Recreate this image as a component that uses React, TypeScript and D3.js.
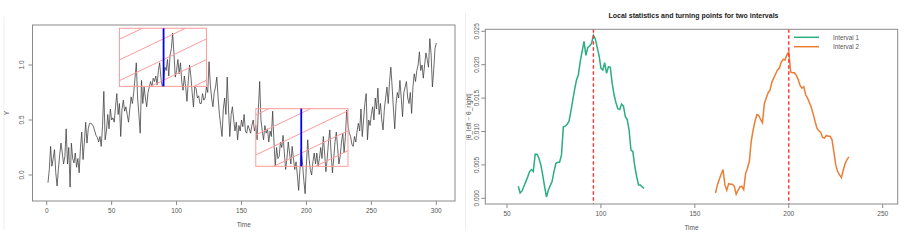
import React from "react";
import * as d3 from "d3";

// ---------- data ----------
const seriesY: number[] = [
  -0.07, 0.05, 0.26, 0.08, 0.15, 0.23, 0.02, -0.10, 0.05, 0.18,
  0.29, 0.20, 0.10, 0.17, 0.42, 0.10, 0.25, -0.11, 0.29, 0.15,
  0.11, 0.20, 0.07, 0.15, 0.02, 0.25, 0.39, 0.14, 0.30, 0.48,
  0.29, 0.42, 0.47, 0.47, 0.46, 0.44, 0.40, 0.36, 0.34, 0.30,
  0.35, 0.26, 0.45, 0.76, 0.32, 0.40, 0.55, 0.42, 0.60, 0.50,
  0.52, 0.48, 0.62, 0.74, 0.55, 0.65, 0.35, 0.60, 0.68, 0.58,
  0.62, 0.55, 0.48, 0.60, 0.71, 0.65, 0.75, 0.88, 1.02, 0.70,
  0.55, 0.38, 0.86, 0.65, 0.80, 0.70, 0.62, 0.75, 0.80, 0.85,
  0.80, 0.88, 0.85, 0.90, 0.82, 0.95, 1.02, 0.88, 0.80, 0.86,
  0.98, 0.95, 1.05, 0.90, 1.09, 1.15, 1.29, 1.10, 0.89, 0.95,
  1.05, 0.92, 1.02, 0.85, 0.77, 0.90, 0.80, 0.67, 0.85, 1.00,
  0.90, 0.75, 0.62, 0.80, 0.79, 0.70, 0.72, 0.65, 0.65, 0.74,
  0.68, 0.70, 0.80, 0.75, 1.03, 0.82, 0.70, 0.62, 0.75, 0.80,
  0.89, 0.70, 0.55, 0.45, 0.35, 0.60, 0.70, 0.55, 0.89, 0.60,
  0.35, 0.55, 0.62, 0.50, 0.40, 0.48, 0.32, 0.45, 0.40, 0.50,
  0.44, 0.55, 0.40, 0.38, 0.45, 0.42, 0.38, 0.45, 0.50, 0.40,
  0.45, 0.32, 0.60, 0.85, 0.50, 0.40, 0.32, 0.45, 0.38, 0.42,
  0.30, 0.40, 0.35, 0.58, 0.30, 0.08, 0.25, 0.15, 0.17, 0.30,
  0.25, 0.36, 0.20, 0.05, 0.15, 0.30, 0.20, 0.10, 0.26, 0.15,
  0.05, 0.12, 0.00, -0.14, 0.05, 0.23, 0.10, -0.05, -0.17, 0.10,
  0.32, 0.15, 0.05, 0.00, 0.12, 0.20, 0.10, 0.20, 0.08, 0.15,
  0.25, 0.15, 0.35, 0.20, 0.03, 0.15, 0.30, 0.41, 0.20, 0.02,
  0.15, 0.30, 0.39, 0.25, 0.10, 0.17, 0.30, 0.38, 0.20, 0.35,
  0.59, 0.45, 0.38, 0.35, 0.28, 0.26, 0.35, 0.30, 0.40, 0.47,
  0.40, 0.60, 0.35, 0.50, 0.65, 0.74, 0.32, 0.50, 0.45, 0.55,
  0.62, 0.50, 0.70, 0.60, 0.79, 0.55, 0.65, 0.50, 0.41, 0.60,
  0.70, 0.80, 0.65, 0.85, 0.98, 0.80, 0.60, 0.42, 0.65, 0.75,
  0.70, 0.86, 0.70, 0.53, 0.75, 0.80, 0.85, 0.70, 0.65, 0.75,
  0.56, 0.80, 0.92, 0.85, 0.95, 1.00, 1.12, 0.95, 1.00, 0.88,
  1.00, 1.11, 1.05, 0.98, 1.24, 1.10, 0.80, 0.95, 1.15, 1.20,
];

// intervals: [start, end, yLow, yHigh, turning point in left panel]
const intervalStart = [56, 161];
const intervalEnd = [123, 232];
const intervalLow = [0.806, 0.079];
const intervalHigh = [1.334, 0.603];
const turnLeft = [90, 196];

const stat1Start = 56;
const stat1: number[] = [
  0.0018, 0.0008, 0.0011, 0.0018, 0.0025, 0.0032, 0.0040, 0.0043, 0.0040, 0.0066,
  0.0066, 0.0060, 0.0050, 0.0035, 0.0018, 0.0002, 0.0012, 0.0019, 0.0025, 0.0040,
  0.0052, 0.0054, 0.0054, 0.0065, 0.0107, 0.0108, 0.0111, 0.0115, 0.0130, 0.0147,
  0.0163, 0.0177, 0.0185, 0.0205, 0.0220, 0.0235, 0.0214, 0.0226, 0.0228, 0.0232,
  0.0244, 0.0239, 0.0226, 0.0214, 0.0195, 0.0192, 0.0203, 0.0187, 0.0197, 0.0196,
  0.0172, 0.0155, 0.0143, 0.0134, 0.0133, 0.0141, 0.0138, 0.0122, 0.0118, 0.0102,
  0.0072, 0.0070, 0.0048, 0.0033, 0.0020, 0.0020, 0.0017, 0.0015,
];
const stat2Start = 161;
const stat2: number[] = [
  0.0008, 0.0020, 0.0028, 0.0036, 0.0043, 0.0020, 0.0012, 0.0022, 0.0021, 0.0021,
  0.0018, 0.0006, 0.0012, 0.0017, 0.0018, 0.0013, 0.0037, 0.0045, 0.0055, 0.0085,
  0.0102, 0.0115, 0.0125, 0.0124, 0.0118, 0.0113, 0.0142, 0.0150, 0.0158, 0.0162,
  0.0174, 0.0180, 0.0186, 0.0192, 0.0195, 0.0204, 0.0208, 0.0207, 0.0215, 0.0219,
  0.0189, 0.0188, 0.0188, 0.0184, 0.0178, 0.0169, 0.0165, 0.0167, 0.0155, 0.0150,
  0.0143, 0.0136, 0.0126, 0.0115, 0.0105, 0.0101, 0.0099, 0.0091, 0.0090, 0.0094,
  0.0093, 0.0093, 0.0088, 0.0070, 0.0050, 0.0040, 0.0035, 0.0031, 0.0042, 0.0052,
  0.0058, 0.0062,
];
const turningPoints = [96, 200];
const legendLabels = ["Interval 1", "Interval 2"];

const leftXTicks = [0, 50, 100, 150, 200, 250, 300];
const leftYTicks = [0, 0.5, 1.0];
const rightXTicks = [50, 100, 150, 200, 250];
const rightYTicks = [0, 0.005, 0.01, 0.015, 0.02, 0.025];

const title = "Local statistics and turning points for two intervals";

// ---------- styles ----------
const FONT = "'Liberation Sans', Arial, sans-serif";
const AXIS = "#8a8a8a";
const TEXT = "#555555";
const GREEN = "#2aad80";
const ORANGE = "#ec7d35";
const RECT = "#ff9a9a";

const App: React.FC = () => {
  // left panel geometry
  const L = { x0: 32.5, x1: 455, y0: 25, y1: 201 };
  const lx = d3.scaleLinear().domain([0, 300]).range([46.7, 436.3]);
  const ly = d3.scaleLinear().domain([0, 1]).range([175, 65]);
  const line = d3
    .line<number>()
    .x((_, i) => lx(i + 1))
    .y((d) => ly(d));

  // right panel geometry
  const R = { x0: 485.3, x1: 897.7, y0: 29.3, y1: 204 };
  const rx = d3.scaleLinear().domain([50, 250]).range([507, 882.7]);
  const ry = d3.scaleLinear().domain([0, 0.025]).range([198.3, 31.3]);
  const sLine = (start: number) =>
    d3
      .line<number>()
      .x((_, i) => rx(start + i))
      .y((d) => ry(d));

  const hatchSlope = 0.48;
  const hatchGap = [20.7, 20];
  const hatchOffset = [11, 6.3];

  const rects = intervalStart.map((s, i) => {
    const x0 = lx(s);
    const x1 = lx(intervalEnd[i]);
    const yTop = ly(intervalHigh[i]);
    const yBot = ly(intervalLow[i]);
    const lines: [number, number, number, number][] = [];
    const c0 = yTop + hatchOffset[i];
    for (let n = -3; n < 12; n++) {
      const yl = c0 + n * hatchGap[i];
      const yr = yl - hatchSlope * (x1 - x0);
      if (yr > yBot || yl < yTop) continue;
      lines.push([x0, yl, x1, yr]);
    }
    return { x0, x1, yTop, yBot, lines, turn: lx(turnLeft[i]) };
  });

  return (
    <svg
      width={912}
      height={243}
      style={{ position: "absolute", left: 0, top: 0, background: "#fff" }}
      fontFamily={FONT}
    >
      <defs>
        {rects.map((r, i) => (
          <clipPath id={`clip${i}`} key={i}>
            <rect x={r.x0} y={r.yTop} width={r.x1 - r.x0} height={r.yBot - r.yTop} />
          </clipPath>
        ))}
      </defs>
      {/* faint panel borders */}
      <line x1={4} x2={4} y1={17} y2={230} stroke="#eeeeee" />
      <line x1={465.5} x2={465.5} y1={13} y2={230} stroke="#eeeeee" />

      {/* ---------- LEFT PANEL ---------- */}
      <path d={line(seriesY) || ""} fill="none" stroke="#3a3a3a" strokeWidth={0.75} />
      {rects.map((r, i) => (
        <g key={i}>
          <g clipPath={`url(#clip${i})`}>
            {r.lines.map((l, j) => (
              <line key={j} x1={l[0]} y1={l[1]} x2={l[2]} y2={l[3]} stroke={RECT} strokeWidth={1} />
            ))}
          </g>
          <rect
            x={r.x0}
            y={r.yTop}
            width={r.x1 - r.x0}
            height={r.yBot - r.yTop}
            fill="none"
            stroke={RECT}
            strokeWidth={1}
          />
          <line x1={r.turn} x2={r.turn} y1={r.yTop} y2={r.yBot} stroke="#0000ff" strokeWidth={1.8} />
        </g>
      ))}
      <rect x={L.x0} y={L.y0} width={L.x1 - L.x0} height={L.y1 - L.y0} fill="none" stroke={AXIS} strokeWidth={1} />
      {leftXTicks.map((t) => (
        <g key={t}>
          <line x1={lx(t)} x2={lx(t)} y1={L.y1} y2={L.y1 + 4} stroke={AXIS} />
          <text x={lx(t)} y={213} fontSize={6.5} textAnchor="middle" fill={TEXT}>
            {t}
          </text>
        </g>
      ))}
      {leftYTicks.map((t) => (
        <g key={t}>
          <line x1={L.x0} x2={L.x0 - 4} y1={ly(t)} y2={ly(t)} stroke={AXIS} />
          <text
            transform={`translate(24,${ly(t)}) rotate(-90)`}
            fontSize={6.5}
            textAnchor="middle"
            fill={TEXT}
          >
            {d3.format(".1f")(t)}
          </text>
        </g>
      ))}
      <text x={(L.x0 + L.x1) / 2} y={227} fontSize={6.5} textAnchor="middle" fill={TEXT}>
        Time
      </text>
      <text transform={`translate(9,${(L.y0 + L.y1) / 2}) rotate(-90)`} fontSize={6.5} textAnchor="middle" fill={TEXT}>
        Y
      </text>

      {/* ---------- RIGHT PANEL ---------- */}
      <text x={(R.x0 + R.x1) / 2 + 2} y={18} fontSize={7} fontWeight="bold" textAnchor="middle" fill="#222">
        {title}
      </text>
      <path d={sLine(stat1Start)(stat1) || ""} fill="none" stroke={GREEN} strokeWidth={1.5} />
      <path d={sLine(stat2Start)(stat2) || ""} fill="none" stroke={ORANGE} strokeWidth={1.5} />
      {turningPoints.map((t) => (
        <line
          key={t}
          x1={rx(t)}
          x2={rx(t)}
          y1={R.y0}
          y2={R.y1}
          stroke="#ff3030"
          strokeWidth={1.4}
          strokeDasharray="3.5,2.5"
        />
      ))}
      <rect x={R.x0} y={R.y0} width={R.x1 - R.x0} height={R.y1 - R.y0} fill="none" stroke={AXIS} strokeWidth={1} />
      {rightXTicks.map((t) => (
        <g key={t}>
          <line x1={rx(t)} x2={rx(t)} y1={R.y1} y2={R.y1 + 4} stroke={AXIS} />
          <text x={rx(t)} y={216} fontSize={6.5} textAnchor="middle" fill={TEXT}>
            {t}
          </text>
        </g>
      ))}
      {rightYTicks.map((t) => (
        <g key={t}>
          <line x1={R.x0} x2={R.x0 - 4} y1={ry(t)} y2={ry(t)} stroke={AXIS} />
          <text
            transform={`translate(484,${ry(t)}) rotate(-90)`}
            fontSize={6.5}
            textAnchor="middle"
            fill={TEXT}
            dy={-5}
          >
            {d3.format(".3f")(t)}
          </text>
        </g>
      ))}
      <text x={(R.x0 + R.x1) / 2} y={230} fontSize={6.5} textAnchor="middle" fill={TEXT}>
        Time
      </text>
      <text
        transform={`translate(471,${(R.y0 + R.y1) / 2}) rotate(-90)`}
        fontSize={6.5}
        textAnchor="middle"
        fill={TEXT}
      >
        |θ_left − θ_right|
      </text>
      {legendLabels.map((lab, i) => (
        <g key={lab}>
          <line
            x1={794}
            x2={819}
            y1={37.3 + i * 9.4}
            y2={37.3 + i * 9.4}
            stroke={i === 0 ? GREEN : ORANGE}
            strokeWidth={1.5}
          />
          <text x={833} y={37.3 + i * 9.4 + 2.2} fontSize={6.3} fill={TEXT}>
            {lab}
          </text>
        </g>
      ))}
    </svg>
  );
};

export default App;
